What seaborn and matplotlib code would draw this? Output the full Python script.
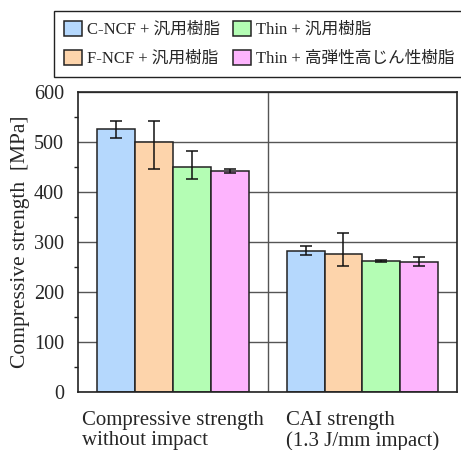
import numpy as np
import pandas as pd
import matplotlib
matplotlib.use("Agg")
import matplotlib.pyplot as plt
from matplotlib.ticker import MultipleLocator
from matplotlib.container import BarContainer
import seaborn as sns

# Test conditions (x categories)
conditions = ["Compressive strength\nwithout impact", "CAI strength\n(1.3 J/mm impact)"]

# Laminate / resin combinations (hue)
materials = ["C-NCF + 汎用樹脂", "F-NCF + 汎用樹脂", "Thin + 汎用樹脂", "Thin + 高弾性高じん性樹脂"]
colors = ["#b5d8fd", "#fdd4ab", "#b4fdb4", "#fdb4fd"]

# Mean strength [MPa] for each material, per condition
strength_plain = [525, 500, 450, 441]
strength_cai = [281, 275, 261, 260]

# Error bar extents [MPa] (below, above the mean)
err_low_plain = [18, 55, 25, 3]
err_high_plain = [17, 42, 32, 4]
err_low_cai = [8, 23, 2, 9]
err_high_cai = [10, 42, 2, 10]

sns.set_style("white")
plt.rcParams["font.family"] = ["Liberation Serif", "Noto Sans CJK JP"]
plt.rcParams["axes.unicode_minus"] = False

df = pd.DataFrame({
    "condition": np.repeat(conditions, len(materials)),
    "material": materials * len(conditions),
    "strength": strength_plain + strength_cai,
})

fig = plt.figure(figsize=(4.61, 4.50), dpi=100)
ax = fig.add_axes([0.169, 0.1296, 0.823, 0.667])

sns.barplot(data=df, x="condition", y="strength", hue="material",
            hue_order=materials, order=conditions, palette=colors,
            saturation=1, errorbar=None, width=0.8, edgecolor="#222222",
            linewidth=1.1, legend=False, ax=ax, zorder=3)

# Error bars at the centre of each bar
err_low = [err_low_plain, err_low_cai]
err_high = [err_high_plain, err_high_cai]
bar_groups = [c for c in ax.containers if isinstance(c, BarContainer)]
for mi, cont in enumerate(bar_groups):
    for ci, bar in enumerate(cont.patches):
        xc = bar.get_x() + bar.get_width() / 2
        ax.errorbar(xc, bar.get_height(),
                    yerr=[[err_low[ci][mi]], [err_high[ci][mi]]],
                    fmt="none", ecolor="#111111", elinewidth=1.1,
                    capsize=4, capthick=1.1, zorder=4)

ax.set_ylim(0, 600)
ax.set_xlim(-0.5, 1.5)
ax.yaxis.set_major_locator(MultipleLocator(100))
ax.yaxis.set_minor_locator(MultipleLocator(50))
ax.grid(axis="y", which="major", color="#555555", linewidth=1.0, zorder=0)
ax.axvline(0.5, color="#555555", linewidth=1.0, zorder=1)

# Category labels on minor ticks, boundary ticks on major ticks
ax.set_xticks([-0.5, 0.5, 1.5])
ax.set_xticklabels(["", "", ""])
ax.set_xticks([0, 1], minor=True)
ax.set_xticklabels(conditions, minor=True, fontsize=15, multialignment="left",
                   linespacing=1.05)
ax.tick_params(axis="x", which="major", direction="out", length=8, width=1.0, color="#222222")
ax.tick_params(axis="x", which="minor", length=0, pad=14)
ax.tick_params(axis="y", which="major", direction="out", length=8, width=1.0,
               color="#222222", labelsize=14.5, pad=2)
ax.tick_params(axis="y", which="minor", direction="out", length=3, width=1.0, color="#222222", left=True)
ax.set_xlabel("")
ax.set_ylabel("Compressive strength  [MPa]", fontsize=15.5, labelpad=3)

for s in ax.spines.values():
    s.set_color("#222222")
    s.set_linewidth(1.2)
    s.set_zorder(5)

handles = [plt.Rectangle((0, 0), 1, 1, facecolor=c, edgecolor="#222222", linewidth=1.1)
           for c in colors]
leg = fig.legend(handles, materials, loc="upper left", bbox_to_anchor=(0.118, 0.976),
                 ncol=2, fontsize=12, frameon=True, fancybox=False, framealpha=1,
                 edgecolor="#222222", handlelength=1.05, handleheight=1.0,
                 handletextpad=0.3, columnspacing=0.8, labelspacing=0.7,
                 borderpad=0.6, borderaxespad=0)
leg.get_frame().set_linewidth(1.0)

fig.savefig("out.png", dpi=100)
